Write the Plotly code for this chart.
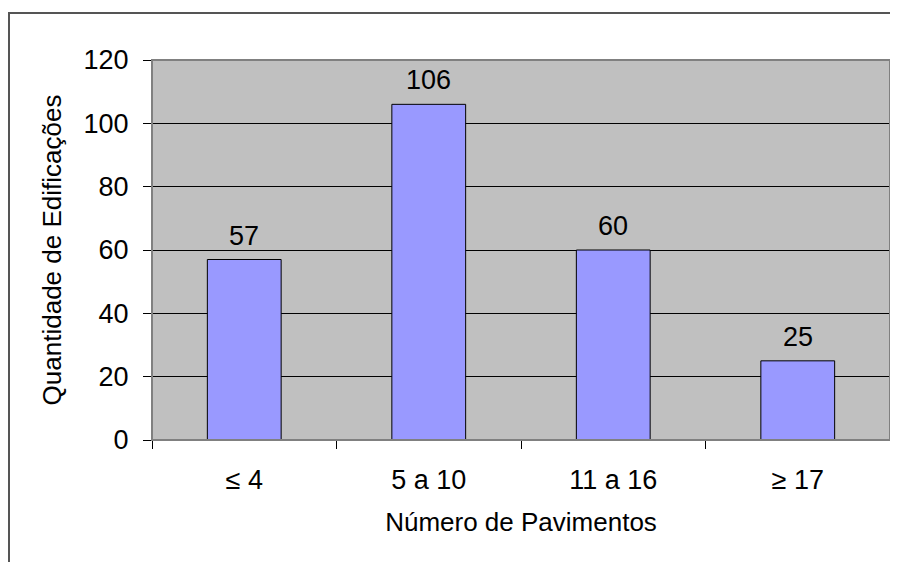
import plotly.graph_objects as go

categories = ["≤ 4", "5 a 10", "11 a 16", "≥ 17"]
values = [57, 106, 60, 25]
y_ticks = [0, 20, 40, 60, 80, 100, 120]

FONT = "Liberation Sans, Arial, sans-serif"
NUM = 27
TTL = 26

fig = go.Figure()
fig.add_trace(go.Bar(
    x=categories, y=values,
    marker=dict(color="#9999ff", line=dict(color="#000000", width=1)),
    hoverinfo="skip",
))

for c, v in zip(categories, values):
    fig.add_annotation(x=c, y=v, text=str(v), showarrow=False,
                       yanchor="bottom", yshift=7,
                       font=dict(family=FONT, size=NUM, color="#000"))

OFF = 8  # page body margin
W, H = 898 - OFF, 562 - OFF
# plot area in window coords: x 152..890, y 60..440
L = 152 - OFF
T = 60 - OFF
R = W - (890 - OFF)
B = H - (440 - OFF)
pw, ph = W - L - R, H - T - B

# outer chart border (window coords left 9, top 13)
fig.add_shape(type="rect", xref="paper", yref="paper",
              x0=((9 - OFF) - L) / pw, x1=1 + 40 / pw,
              y0=-(B + 40) / ph, y1=1 + (T - (13 - OFF)) / ph,
              line=dict(color="#555555", width=2), layer="below")
# plot area border (top/right gray)
fig.add_shape(type="rect", xref="paper", yref="paper",
              x0=0, x1=1, y0=0, y1=1,
              line=dict(color="#808080", width=2), layer="above")

fig.update_layout(
    width=W, height=H,
    margin=dict(l=L, r=R, t=T, b=B),
    paper_bgcolor="#ffffff",
    plot_bgcolor="#c0c0c0",
    bargap=0.6,
    showlegend=False,
    font=dict(family=FONT, size=NUM, color="#000"),
    xaxis=dict(
        type="category",
        tickson="boundaries", ticks="outside", ticklen=8, tickcolor="#000",
        showline=True, linecolor="#000", linewidth=1,
        showgrid=False,
        tickfont=dict(size=NUM),
        ticklabelstandoff=16,
        title=dict(text="Número de Pavimentos", font=dict(size=TTL), standoff=18),
    ),
    yaxis=dict(
        range=[0, 120], tickvals=y_ticks,
        ticks="outside", ticklen=8, tickcolor="#000",
        showline=True, linecolor="#000", linewidth=1,
        showgrid=True, gridcolor="#000", gridwidth=1,
        zeroline=False,
        tickfont=dict(size=NUM),
        ticklabelstandoff=9,
        title=dict(text="Quantidade de Edificações", font=dict(size=TTL), standoff=14),
    ),
)

fig.write_html("out.html")
